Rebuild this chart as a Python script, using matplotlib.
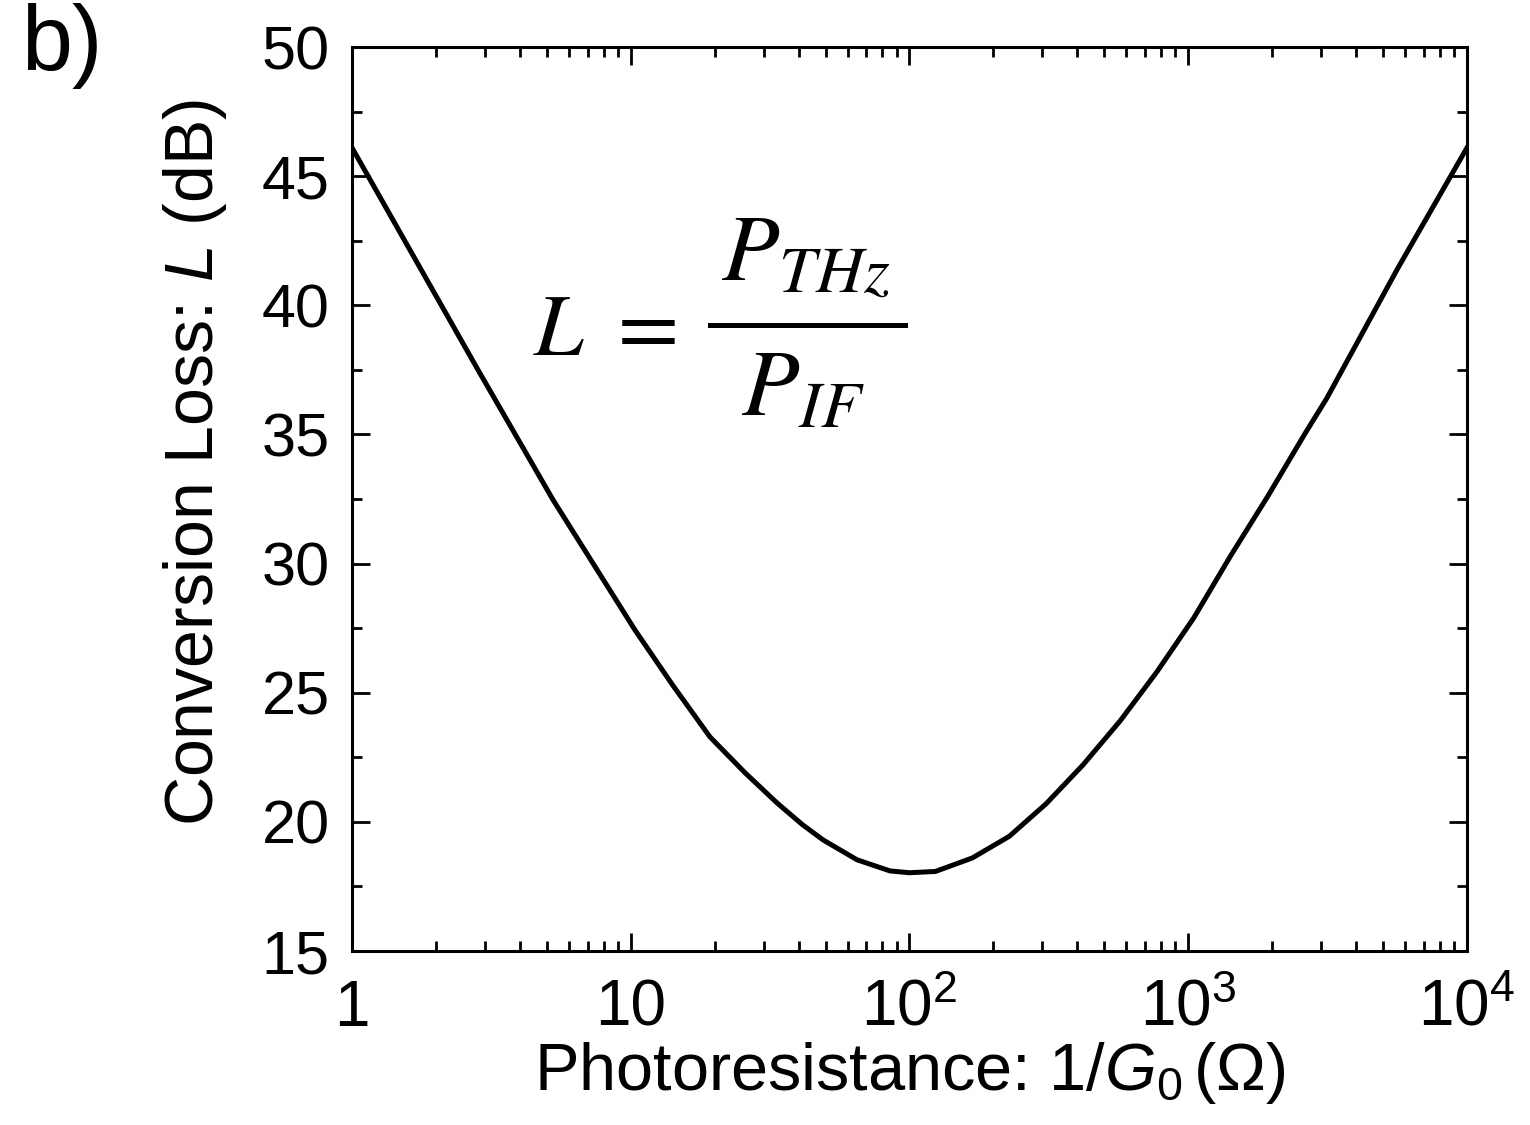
import matplotlib
matplotlib.use('Agg')
import matplotlib.pyplot as plt
import numpy as np
from matplotlib.lines import Line2D
from matplotlib.ticker import MultipleLocator, LogLocator, FixedLocator, FixedFormatter, NullFormatter

plt.rcParams['font.family'] = ['Liberation Sans', 'DejaVu Sans']
plt.rcParams['mathtext.fontset'] = 'custom'
plt.rcParams['mathtext.rm'] = 'Liberation Sans'
plt.rcParams['mathtext.it'] = 'Liberation Sans:italic'

# values (log10 of photoresistance, loss in dB)
log_r = [0.0, 0.208, 0.452, 0.721, 1.015, 1.15, 1.284, 1.41, 1.525, 1.615, 1.69,
         1.812, 1.93, 2.0, 2.093, 2.225, 2.358, 2.49, 2.622, 2.755, 2.887,
         3.02, 3.152, 3.285, 3.417, 3.497, 3.75, 4.0]
loss_db = [46.1, 42.14, 37.5, 32.47, 27.43, 25.3, 23.29, 21.9, 20.73, 19.9, 19.3,
           18.53, 18.1, 18.03, 18.08, 18.6, 19.44, 20.7, 22.2, 23.9, 25.8,
           27.9, 30.3, 32.6, 35.0, 36.4, 41.4, 46.1]
resistance = [10 ** v for v in log_r]

x_ticks = [1, 10, 100, 1000, 10000]
x_ticklabels = ['1', '10', r'$\mathregular{10^2}$', r'$\mathregular{10^3}$', r'$\mathregular{10^4}$']

W, H = 1530, 1125
fig = plt.figure(figsize=(W / 100, H / 100), dpi=100)
ax = fig.add_axes([352 / W, 1 - 951 / H, 1115 / W, 904 / H])

ax.plot(resistance, loss_db, color='black', lw=3.6, solid_joinstyle='round')

ax.set_xscale('log')
ax.set_xlim(1, 1e4)
ax.set_ylim(15, 50)
ax.xaxis.set_major_locator(FixedLocator(x_ticks))
ax.xaxis.set_major_formatter(FixedFormatter(x_ticklabels))
ax.xaxis.set_minor_locator(LogLocator(base=10, subs=np.arange(2, 10)))
ax.xaxis.set_minor_formatter(NullFormatter())
ax.yaxis.set_major_locator(MultipleLocator(5))
ax.yaxis.set_minor_locator(MultipleLocator(2.5))

ax.tick_params(which='both', direction='in', top=True, right=True)
ax.tick_params(axis='y', labelsize=44)
ax.tick_params(axis='x', labelsize=46)
ax.tick_params(which='major', length=13, width=2)
ax.tick_params(which='minor', length=7, width=2)
ax.tick_params(axis='x', which='major', pad=20)
ax.tick_params(axis='y', which='major', pad=16)
for s in ax.spines.values():
    s.set_linewidth(2.2)

ax.set_xlabel(r'Photoresistance: 1/$G_\mathit{0}\,$($\Omega$)', fontsize=48)
ax.set_ylabel(r'Conversion Loss: $L$ (dB)', fontsize=49)
ax.xaxis.set_label_coords(0.5, -0.098)
ax.yaxis.set_label_coords(-0.110, 0.541)

# the formula, set in pieces so the fraction is as tall as in the original
eq = dict(math_fontfamily='stix', va='baseline')
fig.text(533 / W, 1 - 355 / H, r'$L\ =$', fontsize=64, ha='left', **eq)
fig.text(806 / W, 1 - 280 / H, r'$P_{THz}$', fontsize=68, ha='center', **eq)
fig.text(803 / W, 1 - 415 / H, r'$P_{IF}$', fontsize=68, ha='center', **eq)
fig.add_artist(Line2D([710 / W, 905 / W], [1 - 325 / H, 1 - 325 / H],
                      color='black', lw=3.6, transform=fig.transFigure))

fig.text(0.014, 0.997, 'b)', fontsize=66, ha='left', va='top')

fig.savefig('out.png', dpi=100)
